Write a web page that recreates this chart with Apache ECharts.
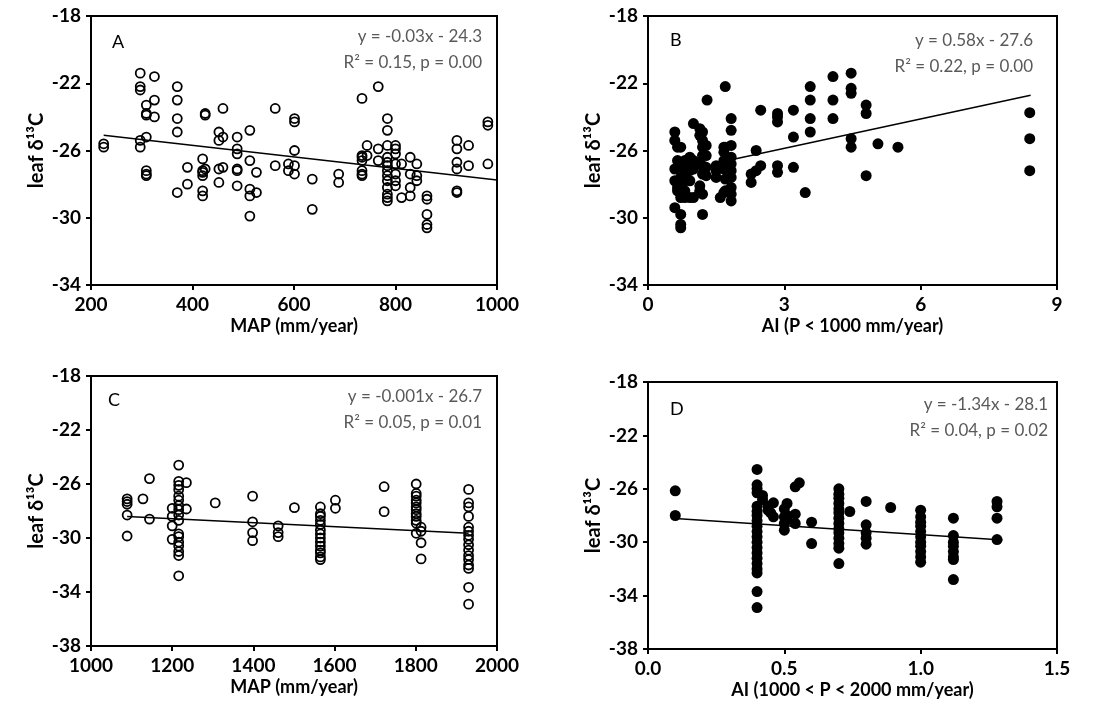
<!DOCTYPE html>
<html>
<head>
<meta charset="utf-8">
<script src="https://cdn.jsdelivr.net/npm/echarts@6/dist/echarts.min.js"></script>
<style>
  html, body { margin: 0; padding: 0; background: #fff; }
  #chart { width: 1107px; height: 718px; }
</style>
</head>
<body>
<div id="chart"></div>
<script>
// panel A: MAP (mm/year) vs leaf d13C, P < 1000
const ptsA = [
  [225,-25.6],[225,-25.8],
  [297,-21.4],[297,-22.2],[297,-22.4],[297,-25.4],[297,-25.8],
  [309,-23.3],[309,-23.8],[309,-23.9],[309,-25.2],[309,-27.2],[309,-27.4],[309,-27.5],
  [325,-21.6],[325,-23.0],[325,-24.0],
  [370,-22.2],[370,-23.0],[370,-24.1],[370,-24.9],[370,-28.5],
  [390,-27.0],[390,-28.0],
  [420,-26.5],[420,-27.2],[420,-27.3],[420,-27.5],[420,-28.4],[420,-28.7],
  [425,-23.8],[425,-23.9],[425,-27.1],
  [452,-24.9],[452,-25.4],[452,-27.1],[452,-27.9],
  [460,-23.5],[460,-25.2],[460,-27.0],
  [488,-25.2],[488,-25.9],[488,-26.2],[488,-27.1],[488,-27.2],[488,-28.1],
  [513,-24.8],[513,-26.6],[513,-28.3],[513,-28.7],[513,-29.9],
  [526,-27.3],[526,-28.5],
  [563,-23.5],[563,-26.9],
  [589,-26.8],[589,-27.2],
  [601,-24.1],[601,-24.3],[601,-26.0],[601,-26.9],[601,-27.4],
  [636,-27.7],[636,-29.5],
  [688,-27.4],[688,-27.9],
  [734,-22.9],[734,-26.3],[734,-26.4],[734,-26.6],[734,-27.2],[734,-27.4],[734,-27.5],
  [744,-25.7],[744,-26.3],
  [766,-22.2],[766,-25.9],[766,-26.6],
  [784,-24.1],[784,-24.8],[784,-25.7],[784,-26.4],[784,-26.7],[784,-26.9],[784,-27.2],
  [784,-27.5],[784,-27.8],[784,-28.2],[784,-28.6],[784,-28.8],[784,-29.0],
  [800,-25.7],[800,-25.9],[800,-26.2],[800,-26.8],[800,-27.4],[800,-27.8],[800,-28.1],
  [812,-26.8],[812,-28.8],
  [829,-26.4],[829,-27.4],[829,-28.2],[829,-28.7],
  [842,-26.8],[842,-27.5],[842,-27.8],
  [862,-28.7],[862,-28.9],[862,-29.8],[862,-30.4],[862,-30.6],
  [921,-25.4],[921,-25.9],[921,-26.7],[921,-27.1],[921,-28.4],[921,-28.5],
  [944,-25.7],[944,-26.9],
  [982,-24.3],[982,-24.5],[982,-26.8]
];
const fitA = [[225,-25.1],[1000,-27.75]];

// panel B: AI vs leaf d13C, P < 1000
const ptsB = [
  [0.59,-24.9],[0.59,-25.4],[0.59,-27.1],[0.59,-27.8],[0.59,-29.4],
  [0.65,-25.8],[0.65,-26.6],[0.65,-28.2],[0.65,-28.4],
  [0.72,-25.8],[0.72,-27.0],[0.72,-27.6],[0.72,-28.8],[0.72,-29.8],[0.72,-30.4],[0.72,-30.6],
  [0.81,-26.6],[0.81,-26.9],[0.81,-27.4],[0.81,-27.8],[0.81,-28.4],[0.81,-28.8],
  [0.92,-26.4],[0.92,-26.7],[0.92,-27.2],[0.92,-27.8],[0.92,-28.8],
  [1.0,-24.4],[1.0,-26.6],[1.0,-27.1],[1.0,-28.8],
  [1.14,-24.7],[1.14,-25.1],[1.14,-26.8],[1.14,-28.1],[1.14,-28.4],[1.14,-28.5],
  [1.2,-24.9],[1.2,-25.4],[1.2,-25.8],[1.2,-26.3],[1.2,-26.9],[1.2,-27.4],[1.2,-28.6],[1.2,-29.8],
  [1.28,-25.7],[1.28,-26.3],[1.28,-27.0],[1.28,-27.5],
  [1.3,-23.0],
  [1.5,-26.9],[1.5,-27.2],[1.5,-27.6],
  [1.59,-27.0],[1.59,-28.8],
  [1.67,-25.8],[1.67,-26.1],[1.67,-26.6],[1.67,-27.1],[1.67,-28.5],
  [1.70,-22.2],[1.70,-25.8],[1.70,-27.7],[1.70,-28.4],
  [1.83,-24.1],[1.83,-24.8],[1.83,-25.7],[1.83,-26.4],[1.83,-26.8],[1.83,-27.2],
  [1.83,-27.6],[1.83,-28.2],[1.83,-28.6],[1.83,-29.0],
  [2.27,-27.4],[2.27,-27.9],
  [2.38,-26.0],[2.38,-27.2],
  [2.48,-23.6],[2.48,-26.9],
  [2.85,-23.8],[2.85,-24.0],[2.85,-24.3],[2.85,-26.9],[2.85,-27.3],
  [3.2,-23.6],[3.2,-25.2],[3.2,-27.0],
  [3.46,-28.5],
  [3.57,-22.2],[3.57,-23.0],[3.57,-24.1],[3.57,-24.9],
  [4.07,-21.6],[4.07,-23.0],[4.07,-24.1],
  [4.47,-21.4],[4.47,-22.3],[4.47,-22.6],[4.47,-25.3],[4.47,-25.8],
  [4.80,-23.3],[4.80,-23.8],[4.80,-27.5],
  [5.06,-25.6],
  [5.50,-25.8],
  [8.40,-23.75],[8.40,-25.3],[8.40,-27.2]
];
const fitB = [[1.91,-26.5],[8.42,-22.72]];

// panel C: MAP (mm/year) vs leaf d13C, 1000 < P < 2000
const ptsC = [
  [1089,-27.1],[1089,-27.3],[1089,-27.5],[1089,-28.3],[1089,-29.85],
  [1128,-27.1],
  [1144,-25.6],[1144,-28.6],
  [1200,-27.8],[1200,-28.4],[1200,-29.1],[1200,-30.1],
  [1216,-24.6],[1216,-25.8],[1216,-26.1],[1216,-26.4],[1216,-26.9],[1216,-27.2],[1216,-27.6],
  [1216,-27.9],[1216,-28.3],[1216,-28.7],[1216,-29.7],[1216,-29.9],[1216,-30.3],[1216,-30.6],
  [1216,-31.0],[1216,-31.3],[1216,-32.8],
  [1235,-25.9],[1235,-27.85],
  [1306,-27.4],
  [1398,-26.9],[1398,-28.8],[1398,-29.6],[1398,-30.2],
  [1461,-29.1],[1461,-29.6],[1461,-29.9],
  [1501,-27.75],
  [1565,-27.7],[1565,-28.2],[1565,-28.4],[1565,-28.7],[1565,-29.0],[1565,-29.4],[1565,-29.7],
  [1565,-30.0],[1565,-30.3],[1565,-30.6],[1565,-30.9],[1565,-31.1],[1565,-31.4],[1565,-31.6],
  [1602,-27.2],[1602,-27.8],
  [1722,-26.2],[1722,-28.05],
  [1801,-26.0],[1801,-26.7],[1801,-26.9],[1801,-27.2],[1801,-27.4],[1801,-27.7],[1801,-27.9],
  [1801,-28.2],[1801,-28.4],[1801,-28.7],[1801,-28.9],[1801,-29.65],
  [1813,-29.2],[1813,-29.5],[1813,-30.35],[1813,-31.55],
  [1930,-26.4],[1930,-27.4],[1930,-27.7],[1930,-28.4],[1930,-29.2],[1930,-29.5],[1930,-29.8],
  [1930,-30.1],[1930,-30.5],[1930,-30.9],[1930,-31.3],[1930,-31.6],[1930,-32.0],[1930,-32.25],
  [1930,-33.65],[1930,-34.9]
];
const fitC = [[1089,-28.4],[1930,-29.65]];

// panel D: AI vs leaf d13C, 1000 < P < 2000
const ptsD = [
  [0.10,-26.15],[0.10,-28.0],
  [0.40,-24.55],[0.40,-25.7],[0.40,-26.0],[0.40,-26.3],[0.40,-27.3],[0.40,-27.7],[0.40,-28.0],
  [0.40,-28.4],[0.40,-28.8],[0.40,-29.2],[0.40,-29.6],[0.40,-30.0],[0.40,-30.4],[0.40,-30.8],
  [0.40,-31.2],[0.40,-31.6],[0.40,-32.0],[0.40,-32.3],[0.40,-33.7],[0.40,-34.9],
  [0.42,-26.5],[0.42,-26.8],
  [0.44,-27.3],[0.44,-27.6],
  [0.45,-27.8],
  [0.46,-27.05],[0.46,-28.1],
  [0.50,-27.5],[0.50,-28.1],[0.50,-28.6],[0.50,-29.1],
  [0.51,-27.1],[0.51,-28.0],[0.51,-28.3],
  [0.54,-25.85],[0.54,-27.9],[0.54,-28.6],
  [0.555,-25.55],
  [0.60,-28.5],[0.60,-30.1],
  [0.70,-26.0],[0.70,-26.4],[0.70,-26.7],[0.70,-27.1],[0.70,-27.5],[0.70,-27.8],[0.70,-28.2],
  [0.70,-28.6],[0.70,-29.0],[0.70,-29.3],[0.70,-29.7],[0.70,-30.1],[0.70,-30.45],[0.70,-31.6],
  [0.74,-27.7],
  [0.80,-26.95],[0.80,-28.7],[0.80,-29.3],[0.80,-29.7],[0.80,-30.15],
  [0.89,-27.4],
  [1.0,-27.6],[1.0,-28.1],[1.0,-28.5],[1.0,-28.8],[1.0,-29.2],[1.0,-29.6],[1.0,-30.0],
  [1.0,-30.3],[1.0,-30.7],[1.0,-31.1],[1.0,-31.5],
  [1.12,-28.2],[1.12,-29.5],[1.12,-30.0],[1.12,-30.3],[1.12,-30.7],[1.12,-31.1],[1.12,-31.3],[1.12,-32.8],
  [1.28,-26.95],[1.28,-27.35],[1.28,-28.2],[1.28,-29.8]
];
const fitD = [[0.10,-28.23],[1.30,-29.84]];

const xNames = ['MAP (mm/year)', 'AI (P < 1000 mm/year)', 'MAP (mm/year)', 'AI (1000 < P < 2000 mm/year)'];
const yName = 'leaf δ¹³C';
const panelLetters = ['A', 'B', 'C', 'D'];
const eqTexts = ['y = -0.03x - 24.3', 'y = 0.58x - 27.6', 'y = -0.001x - 26.7', 'y = -1.34x - 28.1'];
const r2Texts = ['R² = 0.15, p = 0.00', 'R² = 0.22, p = 0.00', 'R² = 0.05, p = 0.01', 'R² = 0.04, p = 0.02'];

const FONT = 'Lato, "Open Sans", "DejaVu Sans", sans-serif';
const chart = echarts.init(document.getElementById('chart'));

const grids = [
  { left: 91, top: 16, width: 406, height: 269 },
  { left: 648, top: 16, width: 409, height: 269 },
  { left: 91, top: 376, width: 406, height: 270 },
  { left: 648, top: 382, width: 409, height: 267 }
];
const xRanges = [[200, 1000, 200], [0, 9, 3], [1000, 2000, 200], [0, 1.5, 0.5]];
const yRanges = [[-34, -18, 4], [-34, -18, 4], [-38, -18, 4], [-38, -18, 4]];

function axisCommon() {
  return {
    axisLine: { show: true, onZero: false, lineStyle: { color: '#000', width: 2 } },
    axisTick: { show: true, inside: false, length: 5, lineStyle: { color: '#000', width: 2 } },
    splitLine: { show: false },
    axisLabel: { color: '#000', fontFamily: FONT, fontWeight: 'bold', fontSize: 19 },
    nameTextStyle: { color: '#000', fontFamily: FONT, fontWeight: 'bold', fontSize: 18 },
    nameLocation: 'middle'
  };
}

const xAxes = xRanges.map((r, i) => Object.assign(axisCommon(), {
  gridIndex: i, type: 'value', min: r[0], max: r[1], interval: r[2],
  name: xNames[i], nameGap: 32,
  axisLabel: Object.assign(axisCommon().axisLabel, {
    margin: 10,
    formatter: v => (i === 3 ? v.toFixed(1) : String(v))
  })
}));
const yAxes = yRanges.map((r, i) => Object.assign(axisCommon(), {
  gridIndex: i, type: 'value', min: r[0], max: r[1], interval: r[2],
  name: yName, nameGap: 44, nameRotate: 90,
  nameTextStyle: Object.assign(axisCommon().nameTextStyle, { fontSize: 20 }),
  axisLabel: Object.assign(axisCommon().axisLabel, { margin: 10 })
}));

const allPts = [ptsA, ptsB, ptsC, ptsD];
const fits = [fitA, fitB, fitC, fitD];
const openMarker = [true, false, true, false];

const series = [];
allPts.forEach((pts, i) => {
  series.push({
    type: 'scatter', xAxisIndex: i, yAxisIndex: i, data: pts,
    symbol: 'circle', symbolSize: openMarker[i] ? 9 : 11,
    itemStyle: openMarker[i]
      ? { color: 'rgba(255,255,255,0)', borderColor: '#000', borderWidth: 1.8, opacity: 1 }
      : { color: '#000', opacity: 1 },
    z: 3
  });
  series.push({
    type: 'line', xAxisIndex: i, yAxisIndex: i, data: fits[i],
    showSymbol: false, symbol: 'none',
    lineStyle: { color: '#000', width: 1.5 }, z: 4
  });
});

// panel letters and regression text
const graphic = [];
const letterPos = [[112, 33], [670, 31], [108, 391], [670, 400]];
const textRight = [[482, 28], [1033, 32], [482, 388], [1048, 396]];
grids.forEach((g, i) => {
  graphic.push({ type: 'text', left: letterPos[i][0], top: letterPos[i][1],
    style: { text: panelLetters[i], font: '18px ' + FONT, fill: '#000' } });
  graphic.push({ type: 'text', right: 1107 - textRight[i][0], top: textRight[i][1],
    style: { text: eqTexts[i], font: '17px ' + FONT, fill: '#595959', textAlign: 'right' } });
  graphic.push({ type: 'text', right: 1107 - textRight[i][0], top: textRight[i][1] + 26,
    style: { text: r2Texts[i], font: '17px ' + FONT, fill: '#595959', textAlign: 'right' } });
});

chart.setOption({
  animation: false,
  backgroundColor: '#fff',
  grid: grids.map(g => Object.assign({ show: true, borderColor: '#000', borderWidth: 2, backgroundColor: 'transparent' }, g)),
  xAxis: xAxes,
  yAxis: yAxes,
  series: series,
  graphic: graphic
});
</script>
</body>
</html>
